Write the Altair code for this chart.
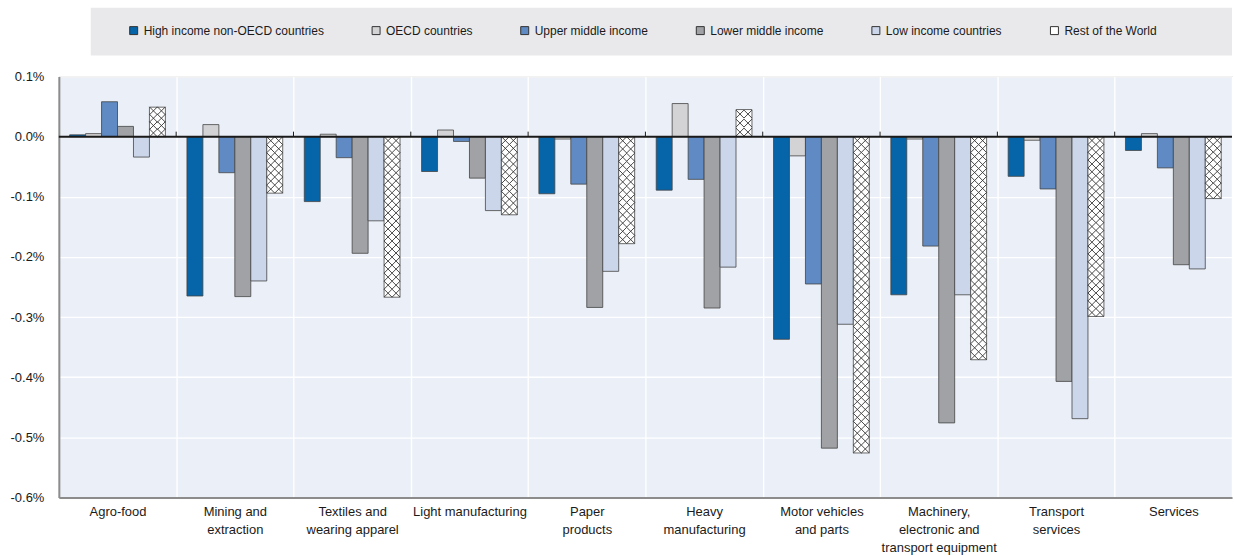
import altair as alt
import pandas as pd

# Sectors (line breaks mark how the axis labels wrap)
categories = [
    "Agro-food",
    "Mining and\nextraction",
    "Textiles and\nwearing apparel",
    "Light manufacturing",
    "Paper\nproducts",
    "Heavy\nmanufacturing",
    "Motor vehicles\nand parts",
    "Machinery,\nelectronic and\ntransport equipment",
    "Transport\nservices",
    "Services",
]

series = [
    "High income non-OECD countries",
    "OECD countries",
    "Upper middle income",
    "Lower middle income",
    "Low income countries",
    "Rest of the World",
]

# Change in output, % (one value per sector)
high_income_non_oecd = [0.003, -0.265, -0.108, -0.058, -0.095, -0.089, -0.337, -0.263, -0.066, -0.023]
oecd = [0.005, 0.020, 0.004, 0.011, -0.004, 0.055, -0.032, -0.004, -0.006, 0.005]
upper_middle = [0.058, -0.060, -0.035, -0.008, -0.079, -0.071, -0.245, -0.182, -0.087, -0.052]
lower_middle = [0.017, -0.266, -0.194, -0.069, -0.284, -0.285, -0.518, -0.476, -0.407, -0.213]
low_income = [-0.034, -0.240, -0.140, -0.123, -0.224, -0.217, -0.312, -0.263, -0.469, -0.220]
rest_of_world = [0.049, -0.094, -0.267, -0.130, -0.178, 0.045, -0.526, -0.371, -0.299, -0.103]

y_ticks = [0.1, 0.0, -0.1, -0.2, -0.3, -0.4, -0.5, -0.6]

colors = ["#0664A8", "#D3D3D5", "#5F8AC3", "#A1A2A5", "#CBD6EA", "#FFFFFF"]

# Layout constants
PLOT_W = 1176
PLOT_H = 422
Y_MIN, Y_MAX = -0.6, 0.1
HATCH_PX = 8  # vertical period of the cross-hatch, in pixels

values = [high_income_non_oecd, oecd, upper_middle, lower_middle, low_income, rest_of_world]
bars = pd.DataFrame(
    [
        {"cat": c, "series": s, "value": v}
        for s, vals in zip(series, values)
        for c, v in zip(categories, vals)
    ]
)

# Cross-hatch tiles filling each "Rest of the World" bar
px_per_unit = PLOT_H / (Y_MAX - Y_MIN)
step_units = HATCH_PX / px_per_unit
tiles = []
for c, v in zip(categories, rest_of_world):
    n = max(1, round(abs(v) / step_units))
    d = v / n
    for k in range(n):
        tiles.append({"cat": c, "series": series[-1], "ty": (k + 0.5) * d})
tiles = pd.DataFrame(tiles)

boundaries = pd.DataFrame({"cat": categories[1:]})
zero = pd.DataFrame({"z": [0.0]})

FONT = "Liberation Sans"
color_scale = alt.Scale(domain=series, range=colors)

x_enc = alt.X(
    "cat:N",
    sort=categories,
    scale=alt.Scale(paddingInner=0, paddingOuter=0),
    axis=alt.Axis(
        title=None,
        labelAngle=0,
        labelExpr="split(datum.label, '\\n')",
        labelFontSize=13,
        labelLineHeight=18,
        labelPadding=8,
        labelColor="#1a1a1a",
        labelFont=FONT,
        ticks=False,
        tickBand="extent",
        grid=True,
        gridColor="#FFFFFF",
        gridWidth=1.3,
        domainColor="#8c8c8c",
        domainWidth=2,
    ),
)
xoff_enc = alt.XOffset(
    "series:N",
    sort=series,
    scale=alt.Scale(domain=series, paddingInner=0, paddingOuter=0.675),
)

bar_layer = alt.Chart(bars).mark_bar(stroke="#444444", strokeWidth=0.8).encode(
    x=x_enc,
    xOffset=xoff_enc,
    y=alt.Y(
        "value:Q",
        scale=alt.Scale(domain=[Y_MIN, Y_MAX], nice=False, zero=False),
        axis=alt.Axis(
            title=None,
            values=y_ticks,
            labelExpr="(datum.value < 0 ? '-' : '') + format(abs(datum.value), '.1f') + '%'",
            labelFontSize=13,
            labelPadding=15,
            labelColor="#1a1a1a",
            labelFont=FONT,
            ticks=False,
            grid=True,
            gridColor="#FFFFFF",
            gridWidth=1.3,
            domainColor="#8c8c8c",
            domainWidth=2,
            minExtent=58,
            maxExtent=58,
        ),
    ),
    color=alt.Color("series:N", sort=series, scale=color_scale, legend=None),
)

hatch_layer = alt.Chart(tiles).mark_point(
    shape="M-1,-0.5L0,0.5M-1,0.5L0,-0.5M0,-0.5L1,0.5M0,0.5L1,-0.5",
    size=256,
    filled=False,
    stroke="#333333",
    strokeWidth=0.9,
    opacity=1,
).encode(
    x=alt.X("cat:N", sort=categories),
    xOffset=alt.XOffset("series:N", sort=series),
    y=alt.Y("ty:Q"),
)

zero_layer = alt.Chart(zero).mark_rule(color="#1a1a1a", strokeWidth=2).encode(y="z:Q")

tick_layer = alt.Chart(boundaries).mark_rule(
    color="#1a1a1a", strokeWidth=1, y2Offset=-5
).encode(
    x=alt.X("cat:N", sort=categories, bandPosition=0),
    y=alt.datum(0),
    y2=alt.datum(0),
)

main = alt.layer(bar_layer, hatch_layer, zero_layer, tick_layer).properties(
    width=PLOT_W,
    height=PLOT_H,
    view=alt.ViewBackground(fill="#EBF0F8", stroke="#9a9a9a", strokeWidth=1),
)

# Grey band carrying the legend, indented from the plot's left edge
spacer = alt.Chart(pd.DataFrame({"a": [0]})).mark_point(opacity=0).properties(
    width=32, height=48, view=alt.ViewBackground(stroke=None)
)

band = alt.Chart(bars).mark_square(size=0, opacity=0, filled=True).encode(
    color=alt.Color(
        "series:N",
        sort=series,
        scale=color_scale,
        legend=alt.Legend(
            title=None,
            orient="none",
            legendX=37,
            legendY=17,
            direction="horizontal",
            columns=6,
            columnPadding=46,
            padding=0,
            symbolType="square",
            symbolSize=64,
            symbolOpacity=1,
            symbolStrokeColor="#333333",
            symbolStrokeWidth=1,
            labelFontSize=12,
            labelOffset=4,
            labelColor="#1a1a1a",
            labelFont=FONT,
            labelLimit=400,
        ),
    ),
).properties(
    width=1144,
    height=48,
    view=alt.ViewBackground(fill="#E9E9EB", stroke=None),
)

top_row = alt.hconcat(spacer, band, spacing=0).resolve_legend(color="independent")

chart = (
    alt.vconcat(top_row, main, spacing=14)
    .resolve_legend(color="independent")
    .properties(padding={"left": 0, "top": 7, "right": 0, "bottom": 0})
    .configure(font=FONT)
)

chart.save("out.html", embed_options={"renderer": "svg", "actions": False})
